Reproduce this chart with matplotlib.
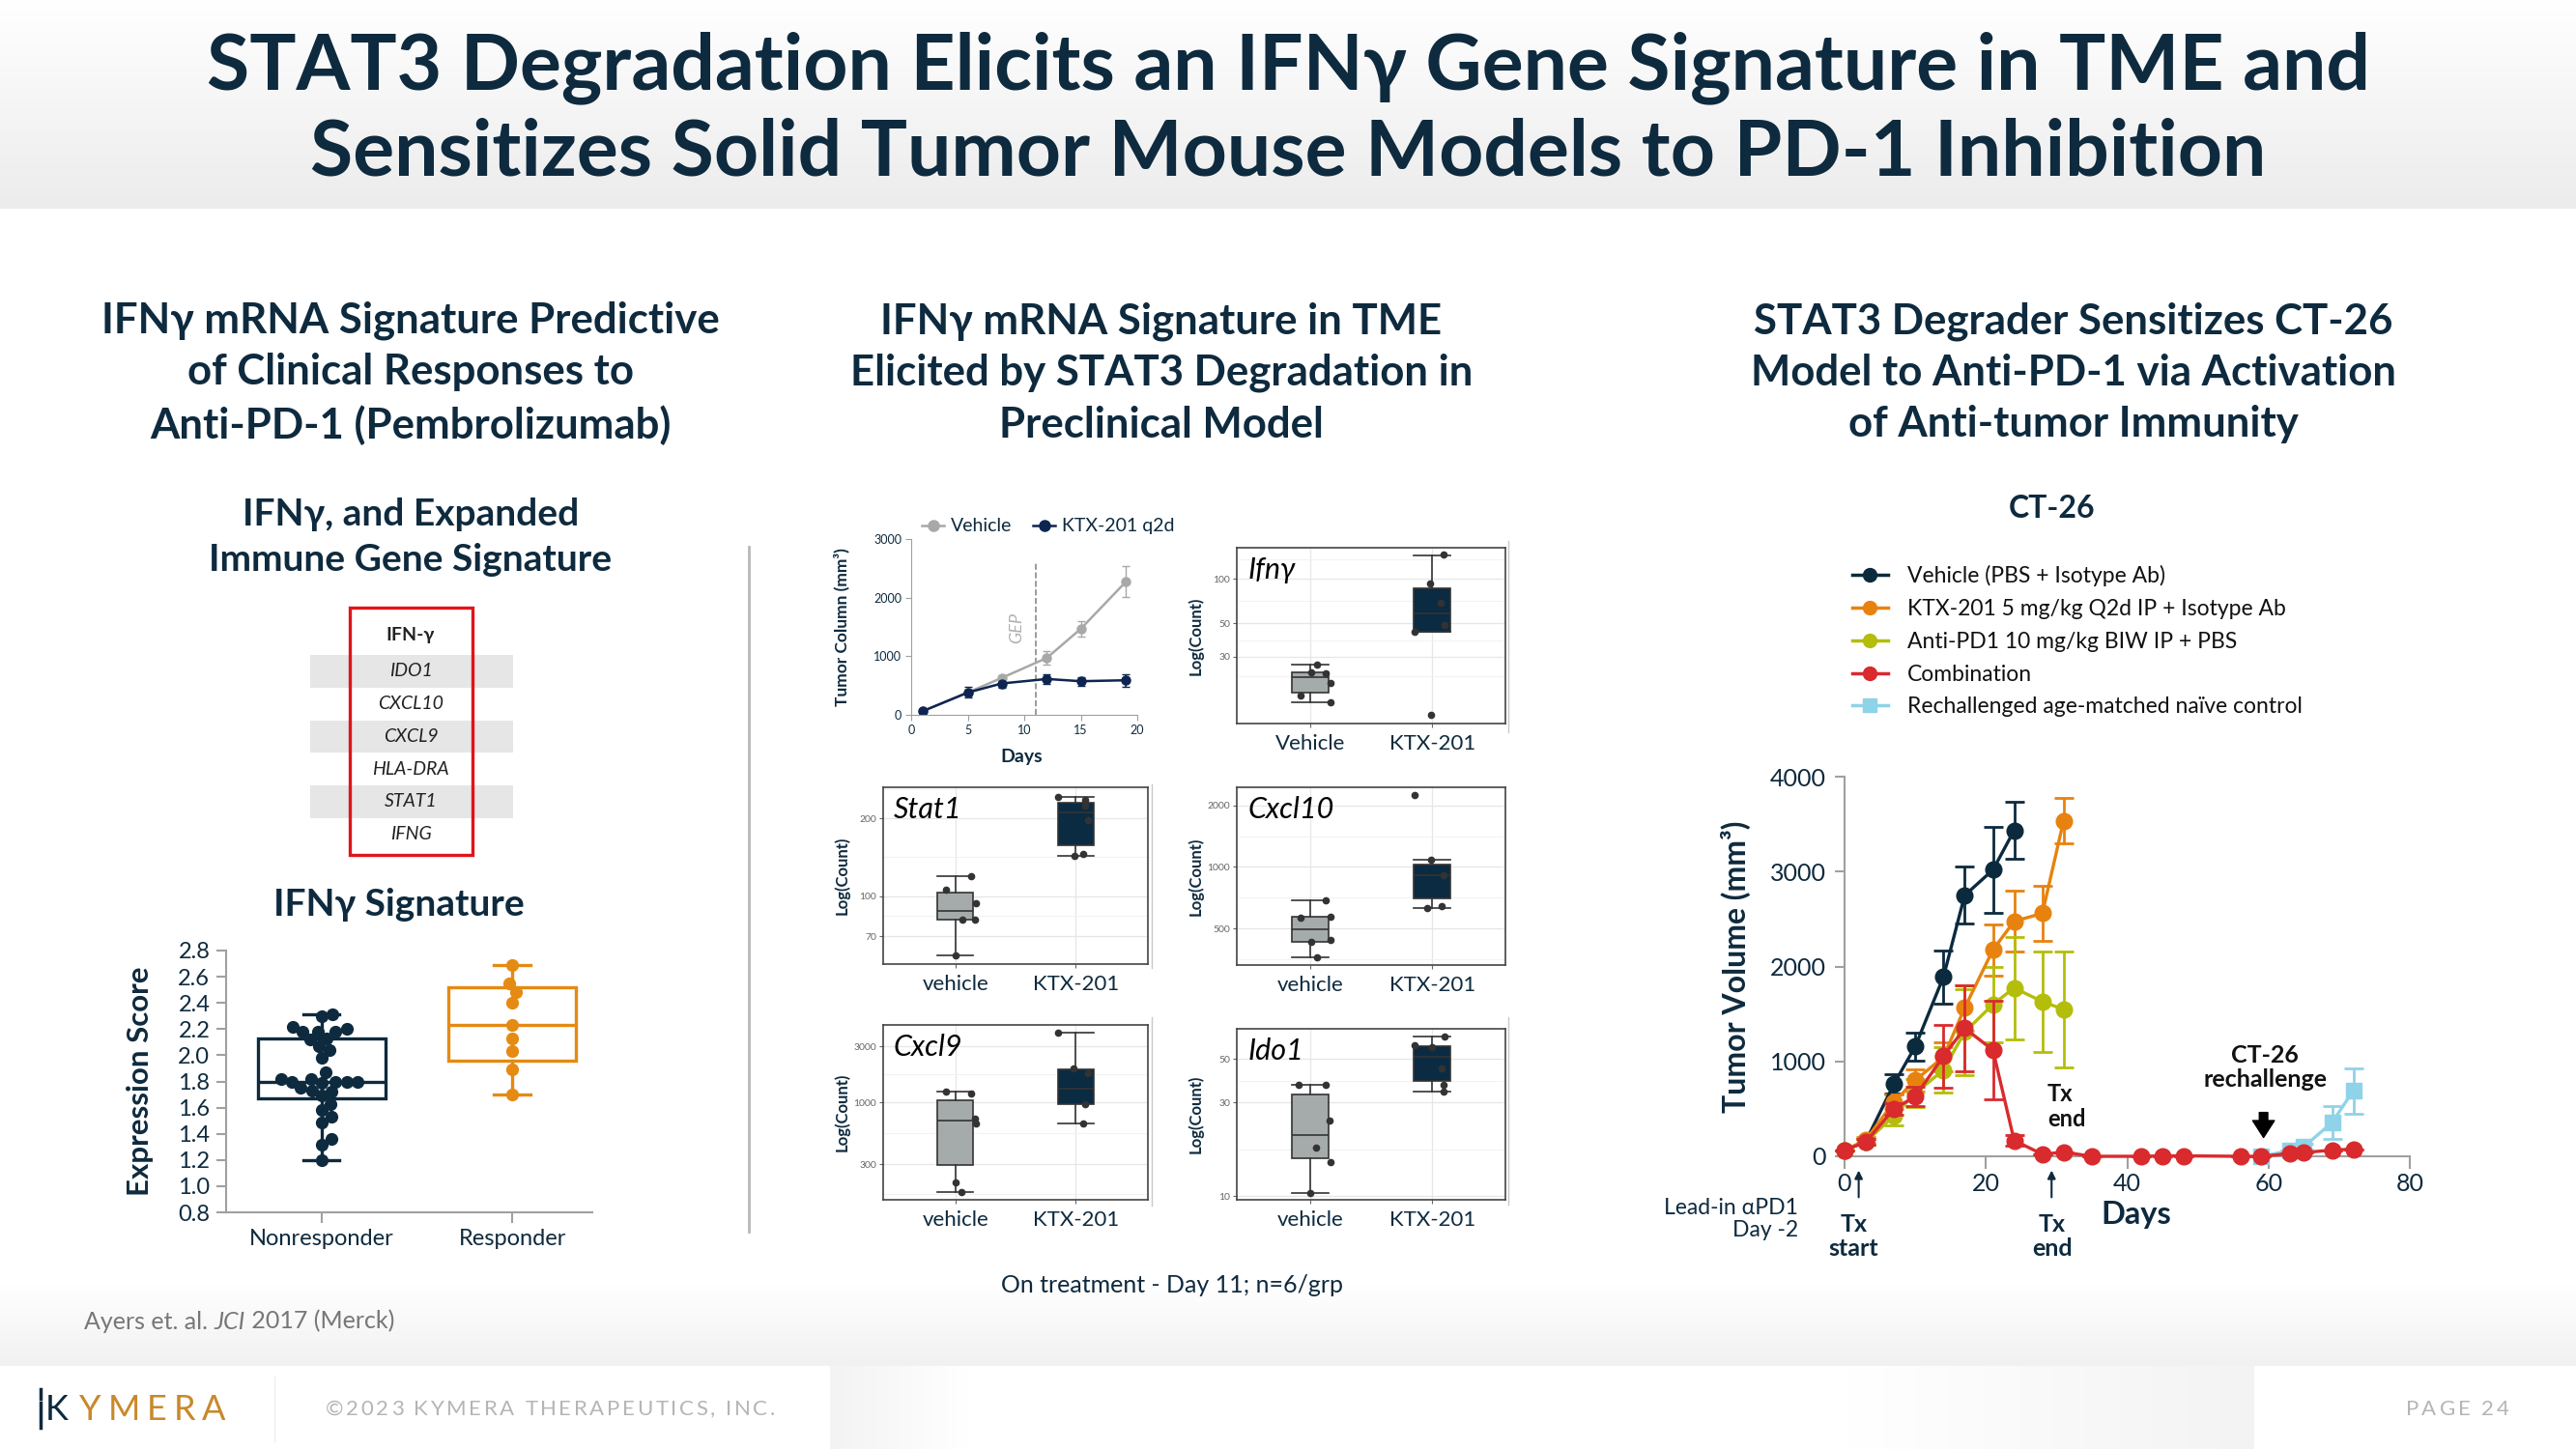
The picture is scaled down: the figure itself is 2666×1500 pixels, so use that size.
import numpy as np
import matplotlib.pyplot as plt
from matplotlib.colors import LinearSegmentedColormap
from matplotlib.lines import Line2D
from matplotlib.patches import Rectangle
from matplotlib.ticker import FixedLocator

plt.rcParams['font.family'] = ['Lato', 'DejaVu Sans']

W, H = 2666, 1500
NAVY = '#0e2a3e'
GRAY_AX = '#a0a0a0'

# ---------------- left panel: IFNg signature (Ayers et al.)
genes = ['IDO1', 'CXCL10', 'CXCL9', 'HLA-DRA', 'STAT1', 'IFNG']
groups = ['Nonresponder', 'Responder']
nonresp_scores = [2.31, 2.30, 2.22, 2.18, 2.18, 2.18, 2.20, 2.12, 2.07, 2.13, 2.04,
                  1.98, 1.87, 1.80, 1.80, 1.79, 1.82, 1.80, 1.80, 1.82, 1.73, 1.75,
                  1.72, 1.69, 1.63, 1.58, 1.53, 1.49, 1.36, 1.32, 1.20]
resp_scores = [2.69, 2.55, 2.48, 2.40, 2.23, 2.13, 2.03, 1.89, 1.70]
# whislo, q1, median, q3, whishi
nonresp_box = [1.20, 1.67, 1.80, 2.13, 2.31]
resp_box = [1.70, 1.96, 2.23, 2.52, 2.69]
score_ticks = [0.8, 1.0, 1.2, 1.4, 1.6, 1.8, 2.0, 2.2, 2.4, 2.6, 2.8]

# ---------------- middle panel: tumour growth + gene expression
growth_days = [1, 5, 8, 12, 15, 19]
growth_vehicle = [61, 380, 629, 971, 1467, 2272]
growth_vehicle_err = [20, 50, 40, 110, 130, 260]
growth_ktx = [61, 380, 535, 612, 574, 590]
growth_ktx_err = [20, 90, 75, 85, 75, 110]
gep_day = 11

ifng_veh = [26.3, 23.6, 23.2, 20.0, 16.4, 14.8]
ifng_veh_jit = [0.06, 0.01, 0.13, 0.17, -0.08, 0.17]
ifng_ktx = [145, 93.7, 68.5, 49.1, 43.7, 12.1]
ifng_ktx_jit = [0.09, -0.02, 0.07, 0.10, -0.14, -0.01]
ifng_box = ([14.8, 17.2, 21.6, 23.6, 26.3], [43.7, 44.0, 58.4, 86.5, 144.6])

stat1_veh = [119.5, 105.9, 93.9, 81.3, 81.3, 59.0]
stat1_veh_jit = [0.13, -0.08, 0.17, 0.06, 0.16, 0.0]
stat1_ktx = [242.5, 235.6, 223.5, 197.2, 146, 143]
stat1_ktx_jit = [-0.15, 0.08, 0.08, 0.10, 0.06, -0.01]
stat1_box = ([59.0, 81.3, 87.6, 102.9, 119.5], [143.0, 157.2, 211.7, 230.1, 242.5])

cxcl10_veh = [685, 566, 570, 440, 429, 364]
cxcl10_veh_jit = [0.13, -0.08, 0.17, 0.17, 0.01, 0.06]
cxcl10_ktx = [2239, 1083, 914, 641, 632]
cxcl10_ktx_jit = [-0.14, -0.01, 0.09, 0.08, -0.04]
cxcl10_box = ([364, 431, 498, 569, 685], [632, 705, 914, 1029, 1083])

cxcl9_veh = [1245, 1196, 735, 665, 210, 176]
cxcl9_veh_jit = [-0.08, 0.13, 0.16, 0.17, 0.0, 0.05]
cxcl9_ktx = [3909, 1950, 1790, 973, 665]
cxcl9_ktx_jit = [-0.15, -0.02, 0.10, 0.08, 0.06]
cxcl9_box = ([176, 294, 699, 1051, 1245], [665, 981, 1326, 1907, 3909])

ido1_veh = [36.9, 37.0, 24.2, 17.7, 15.0, 10.4]
ido1_veh_jit = [-0.09, 0.13, 0.16, 0.05, 0.17, 0.0]
ido1_ktx = [64.6, 58.5, 57.3, 44.7, 36.7, 34.0]
ido1_ktx_jit = [0.10, -0.14, 0.0, 0.08, 0.09, 0.09]
ido1_box = ([10.4, 15.6, 20.5, 32.8, 37.0], [34.0, 38.4, 51.0, 58.0, 64.6])

# ---------------- right panel: CT-26 efficacy
ct_days = [0, 3, 7, 10, 14, 17, 21, 24, 28, 31]
ct_vehicle = [65, 156, 764, 1156, 1891, 2749, 3018, 3433]
ct_vehicle_err = [0, 30, 100, 150, 280, 300, 450, 300]
ct_ktx = [65, 170, 575, 800, 1047, 1564, 2175, 2476, 2560, 3535]
ct_ktx_err = [0, 30, 80, 120, 150, 240, 270, 320, 290, 240]
ct_pd1 = [65, 150, 429, 665, 909, 1309, 1600, 1775, 1629, 1549]
ct_pd1_err = [0, 30, 100, 150, 240, 450, 400, 540, 530, 610]
combo_days = [0, 3, 7, 10, 14, 17, 21, 24, 28, 31, 35, 42, 45, 48, 56, 59, 63, 65, 69, 72]
ct_combo = [65, 150, 500, 629, 1055, 1349, 1120, 167, 22, 44, 0, 0, 5, 5, 0, 0, 29, 40, 65, 76]
ct_combo_err = [0, 30, 60, 100, 330, 450, 520, 60, 0, 0, 0, 0, 0, 0, 0, 0, 0, 0, 0, 0]
naive_days = [59, 63, 65, 69, 72]
ct_naive = [0, 60, 100, 356, 691]
ct_naive_err = [0, 0, 30, 170, 240]
ct_labels = ['Vehicle (PBS + Isotype Ab)', 'KTX-201 5 mg/kg Q2d IP + Isotype Ab',
             'Anti-PD1 10 mg/kg BIW IP + PBS', 'Combination',
             'Rechallenged age-matched naïve control']
ct_colors = ['#0c2a3e', '#e8820e', '#b4be0a', '#d92a2e', '#8fd3e8']

fig = plt.figure(figsize=(W / 100, H / 100), dpi=100)
bg = fig.add_axes([0, 0, 1, 1])
bg.axis('off')
rend = fig.canvas.get_renderer()


def axes_px(l, t, r, b):
    return fig.add_axes([l / W, 1 - b / H, (r - l) / W, (b - t) / H])


def text_w(s, **kw):
    t = bg.text(0, 0, s, **kw)
    w = t.get_window_extent(renderer=rend).width
    t.remove()
    return w


def tracked(x, y, s, track, align='left', **kw):
    # letter-spaced text, drawn one glyph at a time
    bar = text_w('|', **kw)
    pos = [text_w(s[:i] + '|', **kw) - bar + i * track for i in range(len(s) + 1)]
    if align == 'right':
        x -= pos[-1] - track
    for i, ch in enumerate(s):
        if ch != ' ':
            bg.text(x + pos[i], y, ch, ha='left', va='center', **kw)


# background bands
grad = np.linspace(0, 1, 256)[:, None]
bg.imshow(grad, extent=(0, W, 216, 0), aspect='auto',
          cmap=LinearSegmentedColormap.from_list('t', ['#ffffff', '#ececec']))
bg.imshow(grad, extent=(0, W, 1414, 1330), aspect='auto',
          cmap=LinearSegmentedColormap.from_list('b', ['#ffffff', '#f1f1f1']))
hgrad = np.linspace(0, 1, 256)[None, :]
bg.imshow(hgrad, extent=(859, 1003, 1500, 1414), aspect='auto',
          cmap=LinearSegmentedColormap.from_list('f1', ['#f3f3f3', '#ffffff']))
bg.imshow(hgrad, extent=(1913, 2333, 1500, 1414), aspect='auto',
          cmap=LinearSegmentedColormap.from_list('f2', ['#ffffff', '#f3f3f3']))
bg.set_xlim(0, W)
bg.set_ylim(H, 0)

# titles
bg.text(W / 2, 70, 'STAT3 Degradation Elicits an IFNγ Gene Signature in TME and',
        ha='center', va='center', fontsize=58, weight='bold', color=NAVY)
bg.text(W / 2, 158, 'Sensitizes Solid Tumor Mouse Models to PD-1 Inhibition',
        ha='center', va='center', fontsize=58, weight='bold', color=NAVY)

heads = [(425, 'IFNγ mRNA Signature Predictive\nof Clinical Responses to\nAnti-PD-1 (Pembrolizumab)'),
         (1202, 'IFNγ mRNA Signature in TME\nElicited by STAT3 Degradation in\nPreclinical Model'),
         (2146, 'STAT3 Degrader Sensitizes CT-26\nModel to Anti-PD-1 via Activation\nof Anti-tumor Immunity')]
for x, s in heads:
    bg.text(x, 386, s, ha='center', va='center', fontsize=31.5, weight='bold',
            color=NAVY, linespacing=1.4)

bg.plot([775, 775], [566, 1275], color='#b8b8b8', lw=2)
for x, y0, y1 in [(1192, 812, 1002), (1192, 1053, 1248), (1561, 560, 758), (1561, 1053, 1247)]:
    bg.plot([x, x], [y0, y1], color='#c8c8c8', lw=1)

# ---------------- left panel
bg.text(425, 556, 'IFNγ, and Expanded\nImmune Gene Signature', ha='center', va='center',
        fontsize=28, weight='bold', color=NAVY, linespacing=1.4)
bg.text(425, 658, 'IFN-γ', ha='center', va='center', fontsize=14, weight='bold', color='#222222')
row_h = 33.7
for i, g in enumerate(genes):
    yc = 695 + i * row_h
    if i % 2 == 0:
        bg.add_patch(Rectangle((321, yc - row_h / 2), 210, row_h, color='#e6e6e6', lw=0))
    bg.text(425, yc, g, ha='center', va='center', fontsize=14, style='italic', color='#222222')
bg.add_patch(Rectangle((362, 629), 127, 256, fill=False, edgecolor='#e0141c', lw=2.4))
bg.text(413, 937, 'IFNγ Signature', ha='center', va='center', fontsize=28,
        weight='bold', color=NAVY)


def draw_box(ax, pos, stats, width, capw, face, edge, lw):
    st = dict(zip(['whislo', 'q1', 'med', 'q3', 'whishi'], stats))
    st['fliers'] = []
    ax.bxp([st], positions=[pos], widths=width, capwidths=capw, patch_artist=True,
           showfliers=False, manage_ticks=False,
           boxprops=dict(facecolor=face, edgecolor=edge, linewidth=lw),
           medianprops=dict(color=edge, linewidth=lw),
           whiskerprops=dict(color=edge, linewidth=lw),
           capprops=dict(color=edge, linewidth=lw))


def swarm(ax, xc, values, diam):
    # simple beeswarm in pixel space
    pix = ax.transData.transform([(xc, v) for v in values])
    ys = pix[:, 1]
    xpx = ax.transData.transform([(0, 0), (1, 0)])
    unit = xpx[1, 0] - xpx[0, 0]
    placed = []
    offs = np.zeros(len(values))
    for i in np.argsort(values):
        cands = [0.0]
        for (px, py) in placed:
            dy = abs(ys[i] - py)
            if dy < diam:
                dx = np.sqrt(diam ** 2 - dy ** 2)
                cands += [px + dx, px - dx]
        cands.sort(key=abs)
        for c in cands:
            if all((c - px) ** 2 + (ys[i] - py) ** 2 >= diam ** 2 - 1e-6 for px, py in placed):
                break
        placed.append((c, ys[i]))
        offs[i] = c / unit
    return xc + offs


ax1 = axes_px(234, 984, 613, 1255)
ax1.set_xlim(-0.5, 1.42)
ax1.set_ylim(0.8, 2.8)
draw_box(ax1, 0, nonresp_box, 0.67, 0.19, 'white', NAVY, 2.4)
draw_box(ax1, 1, resp_box, 0.67, 0.19, 'white', '#e58a12', 2.4)
ax1.plot(swarm(ax1, 0, nonresp_scores, 11.5), nonresp_scores, 'o', color=NAVY, ms=8.5, zorder=4)
ax1.plot(swarm(ax1, 1, resp_scores, 11.5), resp_scores, 'o', color='#e58a12', ms=8.5, zorder=4)
ax1.set_xticks([0, 1])
ax1.set_xticklabels(groups)
ax1.set_yticks(score_ticks)
ax1.set_yticklabels([f'{t:.1f}' for t in score_ticks])
for s in ['top', 'right']:
    ax1.spines[s].set_visible(False)
for s in ['left', 'bottom']:
    ax1.spines[s].set_color(GRAY_AX)
    ax1.spines[s].set_linewidth(1.5)
ax1.tick_params(axis='y', colors=GRAY_AX, labelcolor=NAVY, labelsize=17, length=7, width=1.5, pad=5)
ax1.tick_params(axis='x', colors=GRAY_AX, labelcolor=NAVY, labelsize=17, length=8, width=1.5, pad=4)
ax1.set_ylabel('Expression Score', fontsize=22.5, weight='bold', color=NAVY, va='center')
ax1.yaxis.set_label_coords(-0.235, 0.5)
ax1.patch.set_alpha(0)

# ---------------- middle panel: growth curve
ax2 = axes_px(943, 558, 1177, 740)
ax2.errorbar(growth_days, growth_vehicle, yerr=growth_vehicle_err, color='#a8a8a8', lw=1.8,
             marker='o', ms=6.5, capsize=3, elinewidth=1, label='Vehicle')
ax2.errorbar(growth_days, growth_ktx, yerr=growth_ktx_err, color='#0d2550', lw=1.8,
             marker='o', ms=6.5, capsize=3, elinewidth=1.2, label='KTX-201 q2d')
ax2.plot([gep_day, gep_day], [0, 2614], ls='--', color='#8a8a8a', lw=1.2)
ax2.text(gep_day - 1.7, 1480, 'GEP', rotation=90, ha='center', va='center',
         fontsize=13, style='italic', color='#b0b0b0')
ax2.set_xlim(0, 20)
ax2.set_ylim(0, 3000)
ax2.set_xticks([0, 5, 10, 15, 20])
ax2.set_yticks([0, 1000, 2000, 3000])
for s in ['top', 'right']:
    ax2.spines[s].set_visible(False)
for s in ['left', 'bottom']:
    ax2.spines[s].set_color(GRAY_AX)
ax2.tick_params(colors=GRAY_AX, labelcolor=NAVY, labelsize=9, length=4, pad=3)
ax2.set_ylabel('Tumor Column (mm³)', fontsize=12.5, weight='bold', color=NAVY, va='center')
ax2.yaxis.set_label_coords(-72 / 234, 0.5)
ax2.set_xlabel('Days', fontsize=14, weight='bold', color=NAVY, va='center')
ax2.xaxis.set_label_coords(0.49, -43 / 182)
h2 = [Line2D([], [], color='#a8a8a8', marker='o', lw=1.8, ms=8),
      Line2D([], [], color='#0d2550', marker='o', lw=1.8, ms=8)]
ax2.legend(h2, ['Vehicle', 'KTX-201 q2d'], ncol=2, loc='center left', frameon=False,
           bbox_to_anchor=(954 / W, 1 - 545 / H), bbox_transform=fig.transFigure,
           fontsize=14, handlelength=1.2, handletextpad=0.35, columnspacing=1.1,
           borderpad=0, borderaxespad=0, labelcolor=NAVY)
ax2.patch.set_alpha(0)

# ---------------- middle panel: gene boxplots
panels = [
    ('Ifnγ', (1280, 567, 1558, 749), (10.6, 162), [30, 50, 100], ['Vehicle', 'KTX-201'],
     ifng_box, ifng_veh, ifng_veh_jit, ifng_ktx, ifng_ktx_jit),
    ('Stat1', (914, 815, 1188, 998), (54.6, 264), [70, 100, 200], ['vehicle', 'KTX-201'],
     stat1_box, stat1_veh, stat1_veh_jit, stat1_ktx, stat1_ktx_jit),
    ('Cxcl10', (1280, 815, 1558, 999), (332, 2448), [500, 1000, 2000], ['vehicle', 'KTX-201'],
     cxcl10_box, cxcl10_veh, cxcl10_veh_jit, cxcl10_ktx, cxcl10_ktx_jit),
    ('Cxcl9', (914, 1061, 1188, 1242), (150, 4570), [300, 1000, 3000], ['vehicle', 'KTX-201'],
     cxcl9_box, cxcl9_veh, cxcl9_veh_jit, cxcl9_ktx, cxcl9_ktx_jit),
    ('Ido1', (1280, 1065, 1558, 1242), (9.6, 71), [10, 30, 50], ['vehicle', 'KTX-201'],
     ido1_box, ido1_veh, ido1_veh_jit, ido1_ktx, ido1_ktx_jit),
]
for name, box, lim, ticks, cats, stats, veh, vj, ktx, kj in panels:
    ax = axes_px(*box)
    ax.set_yscale('log')
    ax.set_xlim(-0.6, 1.6)
    ax.set_ylim(*lim)
    lt = np.log10(ticks)
    step = np.diff(lt).mean()
    mids = list((lt[:-1] + lt[1:]) / 2) + [lt[0] - step / 2, lt[-1] + step / 2]
    ax.yaxis.set_major_locator(FixedLocator(ticks))
    ax.yaxis.set_minor_locator(FixedLocator([10 ** m for m in mids]))
    ax.set_yticklabels([str(t) for t in ticks])
    ax.yaxis.set_minor_formatter(plt.NullFormatter())
    ax.set_xticks([0, 1])
    ax.set_xticklabels(cats)
    ax.grid(True, which='major', color='#e6e6e6', lw=0.9)
    ax.grid(True, which='minor', axis='y', color='#f0f0f0', lw=0.6)
    ax.set_axisbelow(True)
    draw_box(ax, 0, stats[0], 0.3, 0.3, '#a5abab', '#333333', 1.2)
    draw_box(ax, 1, stats[1], 0.3, 0.3, '#0a2b42', '#333333', 1.2)
    ax.plot(np.array(vj), veh, 'o', color='#333333', ms=4.5, zorder=4)
    ax.plot(1 + np.array(kj), ktx, 'o', color='#333333', ms=4.5, zorder=4)
    for s in ax.spines.values():
        s.set_color('#444444')
        s.set_linewidth(1.2)
    ax.tick_params(axis='y', which='major', colors='#666666', labelsize=7.5, length=3, pad=2)
    ax.tick_params(axis='y', which='minor', length=0)
    ax.tick_params(axis='x', colors='#666666', labelcolor=NAVY, labelsize=16, length=3, pad=5)
    ax.set_ylabel('Log(Count)', fontsize=12, weight='bold', color=NAVY, va='center')
    ax.yaxis.set_label_coords(-43 / (box[2] - box[0]), 0.5)
    ax.text(0.04, 0.95, name, transform=ax.transAxes, ha='left', va='top', fontsize=22,
            style='italic', color='black')

bg.text(1213, 1330, 'On treatment - Day 11; n=6/grp', ha='center', va='center',
        fontsize=18, color=NAVY)

# ---------------- right panel: CT-26
bg.text(2124, 527, 'CT-26', ha='center', va='center', fontsize=23, weight='bold', color=NAVY)
ax3 = axes_px(1909, 804, 2494, 1197)
ek = dict(lw=2.4, ms=12, capsize=7, elinewidth=2, capthick=2, clip_on=False)
ax3.errorbar(ct_days[:len(ct_vehicle)], ct_vehicle, yerr=ct_vehicle_err, color=ct_colors[0],
             marker='o', zorder=3, **ek)
ax3.errorbar(ct_days, ct_ktx, yerr=ct_ktx_err, color=ct_colors[1], marker='o', zorder=3, **ek)
ax3.errorbar(ct_days, ct_pd1, yerr=ct_pd1_err, color=ct_colors[2], marker='o', zorder=3, **ek)
ax3.errorbar(naive_days, ct_naive, yerr=ct_naive_err, color=ct_colors[4], marker='s',
             zorder=3, **ek)
ax3.errorbar(combo_days, ct_combo, yerr=ct_combo_err, color=ct_colors[3], marker='o',
             zorder=4, **ek)
ax3.set_xlim(0, 80)
ax3.set_ylim(0, 4000)
ax3.set_xticks([0, 20, 40, 60, 80])
ax3.set_yticks([0, 1000, 2000, 3000, 4000])
for s in ['top', 'right']:
    ax3.spines[s].set_visible(False)
for s in ['left', 'bottom']:
    ax3.spines[s].set_color(GRAY_AX)
    ax3.spines[s].set_linewidth(1.5)
ax3.tick_params(axis='y', colors=GRAY_AX, labelcolor=NAVY, labelsize=18, length=7, width=1.5, pad=7)
ax3.tick_params(axis='x', colors=GRAY_AX, labelcolor=NAVY, labelsize=18, length=9, width=1.5, pad=3)
ax3.set_ylabel('Tumor Volume (mm³)', fontsize=23, weight='bold', color=NAVY, va='center')
ax3.yaxis.set_label_coords(-113 / 585, 0.5)
ax3.set_xlabel('Days', fontsize=23.5, weight='bold', color=NAVY, va='center')
ax3.xaxis.set_label_coords(0.516, -0.153)
ax3.patch.set_alpha(0)

lowx = ax3.get_xaxis_transform()
for day, tx, s in [(2.0, 1.3, 'Tx\nstart'), (29.3, 29.4, 'Tx\nend')]:
    ax3.annotate('', xy=(day, -0.03), xytext=(day, -0.115), xycoords=lowx, textcoords=lowx,
                 arrowprops=dict(arrowstyle='-|>', color=NAVY, lw=1.5, mutation_scale=12))
    ax3.text(tx, -0.212, s, transform=lowx, ha='center', va='center', fontsize=18,
             weight='bold', color=NAVY, linespacing=1.12, clip_on=False)
ax3.text(28.7, 524, 'Tx\nend', ha='left', va='center', fontsize=17, weight='bold',
         color='#111111', linespacing=1.12)
ax3.text(59.5, 936, 'CT-26\nrechallenge', ha='center', va='center', fontsize=18,
         weight='bold', color='#111111', linespacing=1.1)
ax3.annotate('', xy=(59.3, 170), xytext=(59.3, 490),
             arrowprops=dict(arrowstyle='simple,head_width=0.9,head_length=0.7,tail_width=0.35',
                             color='black', mutation_scale=18))
bg.text(1861, 1262, 'Lead-in αPD1\nDay -2', ha='right', va='center', fontsize=16.5,
        color=NAVY, linespacing=1.15)

handles = [Line2D([], [], color=c, marker=m, lw=2.5, ms=10)
           for c, m in zip(ct_colors, ['o', 'o', 'o', 'o', 's'])]
fig.legend(handles, ct_labels, loc='upper left', bbox_to_anchor=(1917 / W, 1 - 585 / H),
           frameon=False, fontsize=16.5, handlelength=1.6, handletextpad=0.9,
           labelspacing=0.56, borderpad=0, borderaxespad=0, labelcolor='#111111')

# ---------------- footnotes / footer
x = 87
for s, st in [('Ayers et. al. ', 'normal'), ('JCI', 'italic'), (' 2017 (Merck)', 'normal')]:
    t = bg.text(x, 1368, s, ha='left', va='center', fontsize=18, style=st, color='#777777')
    x += t.get_window_extent(renderer=rend).width

bg.plot([42, 42], [1438, 1448], color=NAVY, lw=2.5)
bg.plot([42, 42], [1452, 1478], color=NAVY, lw=2.5)
tracked(47, 1459, 'K', 0, fontsize=26, color=NAVY)
tracked(82, 1459, 'YMERA', 7, fontsize=26, color='#c8892b')
bg.plot([284, 284], [1425, 1492], color='#eeeeee', lw=1)
tracked(337, 1459, '©2023 KYMERA THERAPEUTICS, INC.', 2.6, fontsize=16, color='#b5b5b5')
tracked(2597, 1459, 'PAGE 24', 3.0, align='right', fontsize=16, color='#b5b5b5')

fig.savefig('out.png', dpi=100)
